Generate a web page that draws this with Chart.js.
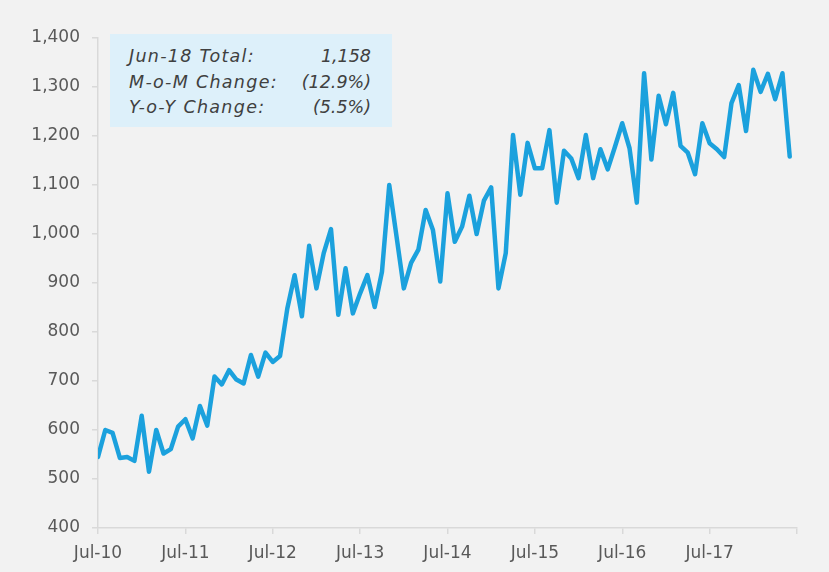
<!DOCTYPE html>
<html>
<head>
<meta charset="utf-8">
<script src="https://cdn.jsdelivr.net/npm/chart.js"></script>
<style>
  html, body { margin: 0; padding: 0; background: #f2f2f2; }
  #wrap { position: relative; width: 829px; height: 572px; }
  #box {
    position: absolute; left: 110px; top: 34px; width: 282px; height: 93px;
    background: #ddf0fa; font-family: "DejaVu Sans", sans-serif; font-style: italic;
    font-size: 17.5px; color: #404040;
  }
  #box .row { position: absolute; left: 19px; width: 242px; height: 27px; line-height: 27px; letter-spacing: 1.3px; }
  #box .row span.v { position: absolute; right: 0; letter-spacing: 0; }
</style>
</head>
<body>
<div id="wrap">
  <canvas id="chart" width="829" height="572"></canvas>
  <div id="box">
    <div class="row" style="top:9px">Jun-18 Total:<span class="v">1,158</span></div>
    <div class="row" style="top:35px">M-o-M Change:<span class="v">(12.9%)</span></div>
    <div class="row" style="top:60px">Y-o-Y Change:<span class="v">(5.5%)</span></div>
  </div>
</div>
<script>
// monthly totals, Jul-10 .. Jun-18
const totals = [
  545, 600, 594, 543, 545, 537, 629, 515, 600, 552, 561, 607,
  622, 583, 649, 609, 709, 693, 722, 703, 695, 753, 709, 758,
  739, 751, 848, 916, 832, 976, 889, 961, 1010, 835, 930, 838,
  879, 916, 851, 923, 1100, 995, 889, 941, 968, 1049, 1008, 903,
  1083, 984, 1015, 1078, 1000, 1068, 1095, 889, 961, 1202, 1080, 1186,
  1134, 1134, 1212, 1064, 1170, 1154, 1114, 1202, 1114, 1173, 1132, 1178,
  1226, 1175, 1064, 1328, 1152, 1282, 1224, 1288, 1180, 1166, 1122, 1226,
  1185, 1173, 1157, 1267, 1304, 1210, 1335, 1290, 1327, 1275, 1328, 1158
];
const yearLabels = ['Jul-10', 'Jul-11', 'Jul-12', 'Jul-13', 'Jul-14', 'Jul-15', 'Jul-16', 'Jul-17', ''];

const points = totals.map((v, i) => ({ x: i, y: v }));
const axisGrey = '#d9d9d9';
const tickFont = { family: 'DejaVu Sans', size: 17 };

// the original axis text is a bit more spread out
const spacing = {
  id: 'spacing',
  beforeInit(chart) { chart.ctx.letterSpacing = '1px'; }
};

new Chart(document.getElementById('chart'), {
  type: 'line',
  data: {
    datasets: [{
      data: points,
      borderColor: '#1ba1dd',
      borderWidth: 4.5,
      borderJoinStyle: 'round',
      borderCapStyle: 'round',
      pointRadius: 0,
      tension: 0,
      fill: false
    }]
  },
  options: {
    responsive: false,
    animation: false,
    layout: { padding: { top: 38, right: 32, left: 0, bottom: 0 } },
    plugins: { legend: { display: false }, tooltip: { enabled: false } },
    scales: {
      x: {
        type: 'linear',
        min: 0,
        max: 96,
        afterFit: s => { s.height = 44; },
        ticks: {
          stepSize: 12,
          color: '#595959',
          font: tickFont,
          padding: 9,
          maxRotation: 0,
          callback: v => yearLabels[v / 12]
        },
        grid: { drawOnChartArea: false, color: axisGrey, tickLength: 6, lineWidth: 1.5 },
        border: { color: axisGrey, width: 1.5 }
      },
      y: {
        min: 400,
        max: 1400,
        afterFit: s => { s.width = 98; },
        ticks: {
          stepSize: 100,
          color: '#595959',
          font: tickFont,
          padding: 12,
          callback: v => v.toLocaleString('en-US')
        },
        grid: { drawOnChartArea: false, color: axisGrey, tickLength: 6, lineWidth: 1.5 },
        border: { color: axisGrey, width: 1.5 }
      }
    }
  },
  plugins: [spacing]
});
</script>
</body>
</html>
